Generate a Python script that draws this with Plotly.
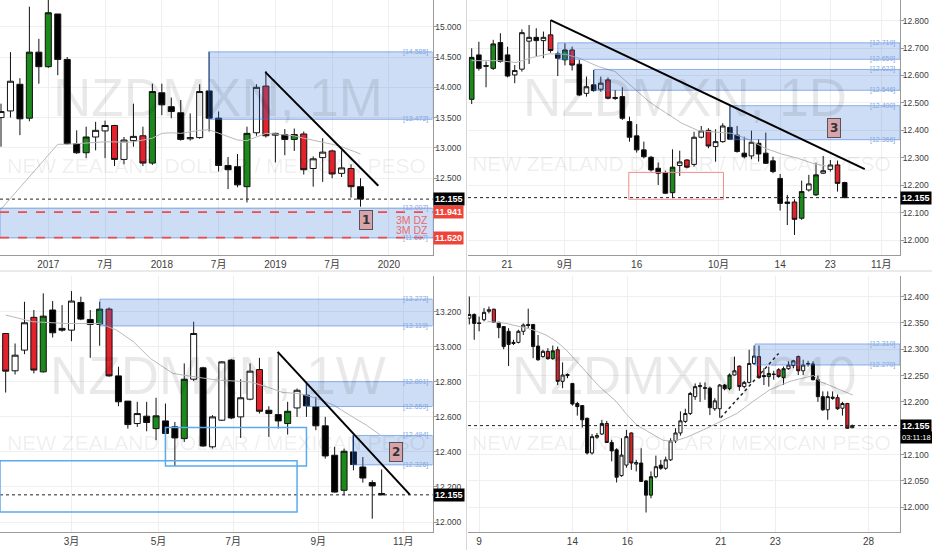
import plotly.graph_objects as go

W, H = 932, 550
LAST = 12.155

# ---------------- NZDMXN 1M (top-left) ----------------
m_open = [13.50, 13.61, 14.05, 13.49, 14.58, 14.34, 15.21, 14.46, 13.07, 12.92, 13.18, 13.28, 13.37, 12.81, 13.12, 13.20, 12.75, 13.91, 13.68, 13.58, 13.15, 13.17, 13.94, 13.49, 12.71, 12.69, 12.36, 13.25, 14.02, 13.21, 13.22, 13.14, 13.23, 12.66, 12.84, 12.95, 12.58, 12.66, 12.36]
m_high = [13.73, 14.58, 14.15, 15.33, 14.80, 15.55, 15.21, 14.50, 13.29, 13.35, 13.43, 13.45, 13.38, 13.18, 13.73, 13.35, 14.06, 14.06, 13.83, 13.79, 13.57, 14.05, 14.585, 13.60, 12.85, 12.90, 13.35, 14.05, 14.27, 13.25, 13.31, 13.32, 13.27, 12.86, 13.16, 12.97, 12.96, 12.73, 12.50]
m_low = [13.02, 13.50, 13.21, 13.44, 14.06, 14.32, 14.20, 13.05, 12.90, 12.83, 12.96, 12.83, 12.70, 12.73, 13.02, 12.70, 12.72, 13.54, 13.49, 13.12, 13.12, 13.15, 13.27, 12.61, 12.32, 12.35, 12.10, 13.20, 13.17, 12.76, 12.88, 12.95, 12.56, 12.36, 12.44, 12.50, 12.52, 12.18, 12.03]
m_close = [13.60, 14.10, 13.48, 14.58, 14.34, 15.23, 14.46, 13.07, 12.92, 13.18, 13.29, 13.37, 12.81, 13.13, 13.19, 12.75, 13.93, 13.71, 13.60, 13.14, 13.17, 13.93, 13.49, 12.71, 12.64, 12.39, 13.24, 14.00, 13.20, 13.24, 13.14, 13.22, 12.64, 12.82, 12.93, 12.57, 12.67, 12.36, 12.155]
m_kind = ["w", "w", "b", "g", "b", "g", "b", "b", "b", "g", "w", "w", "r", "w", "w", "r", "g", "b", "b", "b", "w", "w", "b", "b", "b", "b", "g", "w", "r", "w", "b", "g", "r", "w", "w", "r", "w", "r", "b"]
m_ma = [11.99, 12.17, 12.35, 12.52, 12.70, 12.88, 13.06, 13.06, 13.07, 13.09, 13.10, 13.10, 13.10, 13.09, 13.10, 13.13, 13.16, 13.24, 13.25, 13.24, 13.27, 13.29, 13.30, 13.24, 13.18, 13.13, 13.12, 13.18, 13.24, 13.23, 13.21, 13.20, 13.16, 13.13, 13.10, 13.06, 13.02, 12.96, 12.90]
m_tick_pos = [5, 11, 17, 23, 29, 35, 41]
m_tick_text = ["2017", "7月", "2018", "7月", "2019", "7月", "2020"]
m_price_ticks = [11.5, 12.0, 12.5, 13.0, 13.5, 14.0, 14.5, 15.0]
m_price_hidden = [11.5, 12.0]
m_zone_from = [21.96, -5.0]
m_zone_top = [14.585, 12.007]
m_zone_bot = [13.472, 11.517]
m_trend_x = [27.94, 39.88]
m_trend_y = [14.25, 12.376]
m_dz_levels = [11.941, 11.520]
m_dz_text = ["3M DZ", "3M DZ"]

# ---------------- NZDMXN 1D (top-right) ----------------
d_open = [12.513, 12.675, 12.636, 12.626, 12.720, 12.675, 12.602, 12.623, 12.725, 12.739, 12.727, 12.748, 12.679, 12.657, 12.693, 12.641, 12.535, 12.566, 12.550, 12.584, 12.520, 12.523, 12.432, 12.380, 12.329, 12.302, 12.262, 12.246, 12.173, 12.272, 12.292, 12.276, 12.375, 12.400, 12.341, 12.359, 12.411, 12.383, 12.317, 12.307, 12.353, 12.317, 12.289, 12.225, 12.139, 12.139, 12.080, 12.183, 12.165, 12.244, 12.258, 12.274, 12.210]
d_high = [12.699, 12.723, 12.651, 12.730, 12.754, 12.705, 12.638, 12.768, 12.784, 12.772, 12.760, 12.802, 12.687, 12.717, 12.705, 12.657, 12.596, 12.620, 12.596, 12.593, 12.547, 12.557, 12.450, 12.423, 12.359, 12.307, 12.283, 12.253, 12.331, 12.326, 12.295, 12.395, 12.416, 12.408, 12.404, 12.426, 12.490, 12.416, 12.377, 12.399, 12.368, 12.392, 12.304, 12.241, 12.165, 12.149, 12.217, 12.238, 12.283, 12.307, 12.292, 12.290, 12.213]
d_low = [12.496, 12.618, 12.557, 12.620, 12.647, 12.593, 12.572, 12.614, 12.642, 12.671, 12.663, 12.683, 12.598, 12.637, 12.618, 12.525, 12.523, 12.541, 12.541, 12.513, 12.511, 12.438, 12.359, 12.319, 12.298, 12.250, 12.201, 12.168, 12.153, 12.234, 12.262, 12.268, 12.371, 12.335, 12.286, 12.355, 12.365, 12.319, 12.298, 12.295, 12.286, 12.278, 12.244, 12.108, 12.055, 12.019, 12.074, 12.177, 12.161, 12.241, 12.250, 12.177, 12.153]
d_close = [12.666, 12.626, 12.634, 12.715, 12.651, 12.598, 12.618, 12.756, 12.739, 12.727, 12.739, 12.691, 12.663, 12.693, 12.638, 12.529, 12.559, 12.545, 12.572, 12.517, 12.517, 12.444, 12.375, 12.329, 12.304, 12.256, 12.244, 12.171, 12.266, 12.285, 12.266, 12.375, 12.398, 12.343, 12.359, 12.416, 12.368, 12.323, 12.304, 12.357, 12.314, 12.280, 12.250, 12.134, 12.134, 12.076, 12.177, 12.205, 12.238, 12.253, 12.274, 12.207, 12.155]
d_kind = ["g", "b", "b", "g", "b", "b", "w", "w", "w", "b", "w", "r", "b", "g", "r", "b", "w", "b", "w", "r", "b", "b", "b", "b", "b", "b", "b", "b", "g", "w", "r", "w", "w", "r", "w", "w", "b", "b", "b", "w", "b", "b", "b", "b", "b", "r", "g", "w", "g", "w", "w", "r", "b"]
d_ma_x = [0, 3.8, 6.2, 8.5, 10.8, 13.1, 15.0, 17.7, 20.0, 22.4, 24.7, 27.0, 29.3, 31.6, 33.9, 36.3, 38.6, 40.9, 43.2, 45.5, 47.8, 49.4]
d_ma_y = [12.654, 12.654, 12.647, 12.666, 12.679, 12.677, 12.663, 12.632, 12.614, 12.560, 12.505, 12.465, 12.426, 12.399, 12.393, 12.389, 12.367, 12.335, 12.314, 12.298, 12.278, 12.270]
d_tick_pos = [4.93, 12.97, 23.0, 34.4, 43.0, 50.0, 57.1]
d_tick_text = ["21", "9月", "16", "10月", "14", "23", "11月"]
d_price_ticks = [12.0, 12.1, 12.2, 12.3, 12.4, 12.5, 12.6, 12.7, 12.8]
d_price_hidden = []
d_zone_from = [12.0, 17.05, 36.0]
d_zone_top = [12.719, 12.622, 12.490]
d_zone_bot = [12.659, 12.546, 12.366]
d_trend_x = [11.0, 54.8]
d_trend_y = [12.802, 12.259]
d_box_x = [21.9, 35.1]
d_box_y = [12.149, 12.247]

# ---------------- NZDMXN 1W (bottom-left) ----------------
w_open = [13.076, 12.863, 12.981, 13.168, 12.857, 13.210, 13.105, 13.095, 13.253, 13.156, 13.128, 13.215, 12.834, 12.690, 12.562, 12.604, 12.533, 12.577, 12.543, 12.476, 12.815, 12.880, 12.429, 12.581, 12.924, 12.600, 12.701, 12.870, 12.638, 12.613, 12.562, 12.651, 12.724, 12.657, 12.549, 12.381, 12.181, 12.400, 12.314, 12.225, 12.163]
w_high = [13.076, 13.019, 13.257, 13.210, 13.305, 13.261, 13.238, 13.318, 13.286, 13.210, 13.257, 13.225, 12.886, 12.690, 12.686, 12.686, 12.709, 12.676, 12.571, 12.905, 13.143, 12.886, 12.610, 12.918, 12.930, 12.815, 12.905, 12.937, 12.661, 12.971, 12.686, 12.762, 12.800, 12.714, 12.600, 12.429, 12.419, 12.495, 12.371, 12.238, 12.300]
w_low = [12.739, 12.842, 12.958, 12.848, 12.853, 13.053, 13.086, 13.032, 13.152, 12.937, 13.006, 12.829, 12.661, 12.533, 12.543, 12.518, 12.467, 12.400, 12.320, 12.457, 12.804, 12.429, 12.419, 12.577, 12.587, 12.480, 12.695, 12.619, 12.486, 12.533, 12.499, 12.600, 12.600, 12.524, 12.362, 12.168, 12.152, 12.295, 12.225, 12.019, 12.153]
w_close = [12.861, 12.952, 13.137, 12.867, 13.175, 13.080, 13.095, 13.261, 13.158, 13.128, 13.215, 12.834, 12.686, 12.556, 12.619, 12.568, 12.606, 12.505, 12.480, 12.815, 13.076, 12.434, 12.600, 12.914, 12.594, 12.709, 12.861, 12.632, 12.619, 12.577, 12.632, 12.752, 12.663, 12.549, 12.377, 12.171, 12.404, 12.328, 12.251, 12.206, 12.155]
w_kind = ["r", "w", "w", "r", "g", "b", "b", "w", "b", "b", "g", "r", "b", "b", "w", "b", "g", "b", "b", "g", "w", "b", "w", "w", "b", "w", "w", "r", "b", "b", "g", "w", "b", "b", "b", "b", "g", "b", "b", "b", "b"]
w_ma_x = [0, 2.9, 6.5, 10.0, 11.8, 13.6, 15.4, 17.8, 18.9, 22.5, 26.0, 27.8, 29.5, 31.3, 33.1, 34.9, 36.6, 38.4, 39.8]
w_ma_y = [13.181, 13.143, 13.133, 13.133, 13.095, 13.029, 12.933, 12.848, 12.838, 12.810, 12.800, 12.771, 12.739, 12.733, 12.705, 12.667, 12.610, 12.552, 12.499]
w_tick_pos = [7.0, 16.25, 24.2, 33.25, 42.3]
w_tick_text = ["3月", "5月", "7月", "9月", "11月"]
w_price_ticks = [12.0, 12.2, 12.4, 12.6, 12.8, 13.0, 13.2]
w_price_hidden = []
w_zone_from = [10.03, 31.95, 36.9]
w_zone_top = [13.272, 12.801, 12.494]
w_zone_bot = [13.119, 12.659, 12.326]
w_trend_x = [28.94, 43.0]
w_trend_y = [12.971, 12.156]
w_box_x0 = [17.0, -5.0]
w_box_x1 = [32.0, 31.0]
w_box_y0 = [12.320, 12.057]
w_box_y1 = [12.539, 12.349]

# ---------------- NZDMXN 240 (bottom-right) ----------------
h_open = [12.359, 12.366, 12.350, 12.356, 12.372, 12.376, 12.351, 12.343, 12.334, 12.313,
          12.313, 12.334, 12.347, 12.347, 12.306, 12.286, 12.296, 12.282, 12.299, 12.239,
          12.252, 12.235, 12.197, 12.193, 12.169, 12.103, 12.133, 12.139, 12.159, 12.123,
          12.109, 12.060, 12.080, 12.141, 12.082, 12.084, 12.050, 12.023, 12.058, 12.080,
          12.074, 12.090, 12.126, 12.141, 12.163, 12.178, 12.210, 12.229, 12.227, 12.226,
          12.187, 12.187, 12.232, 12.225, 12.251, 12.268, 12.229, 12.237, 12.273, 12.286,
          12.250, 12.248, 12.253, 12.261, 12.246, 12.263, 12.269, 12.286, 12.259, 12.273,
          12.272, 12.242, 12.210, 12.185, 12.209, 12.208, 12.188, 12.197, 12.151]
h_high = [12.400, 12.368, 12.362, 12.378, 12.381, 12.377, 12.352, 12.344, 12.340, 12.318,
          12.337, 12.349, 12.377, 12.348, 12.327, 12.299, 12.302, 12.307, 12.305, 12.275,
          12.254, 12.236, 12.200, 12.194, 12.170, 12.139, 12.141, 12.166, 12.164, 12.128,
          12.112, 12.131, 12.147, 12.142, 12.090, 12.112, 12.052, 12.068, 12.098, 12.090,
          12.096, 12.131, 12.150, 12.182, 12.187, 12.219, 12.235, 12.237, 12.237, 12.229,
          12.207, 12.234, 12.234, 12.254, 12.286, 12.269, 12.240, 12.299, 12.307, 12.307,
          12.264, 12.267, 12.259, 12.264, 12.267, 12.277, 12.280, 12.288, 12.280, 12.278,
          12.277, 12.250, 12.220, 12.220, 12.220, 12.214, 12.200, 12.198, 12.157]
h_low = [12.347, 12.318, 12.334, 12.353, 12.368, 12.350, 12.321, 12.300, 12.268, 12.308,
         12.311, 12.327, 12.340, 12.283, 12.278, 12.284, 12.280, 12.280, 12.232, 12.226,
         12.245, 12.193, 12.174, 12.151, 12.100, 12.100, 12.130, 12.137, 12.122, 12.087,
         12.047, 12.058, 12.075, 12.071, 12.068, 12.048, 11.990, 12.017, 12.055, 12.071,
         12.071, 12.088, 12.122, 12.136, 12.160, 12.175, 12.204, 12.200, 12.204, 12.175,
         12.183, 12.170, 12.222, 12.222, 12.250, 12.221, 12.226, 12.235, 12.270, 12.244,
         12.232, 12.229, 12.242, 12.246, 12.232, 12.261, 12.264, 12.251, 12.251, 12.267,
         12.241, 12.200, 12.183, 12.166, 12.204, 12.185, 12.174, 12.149, 12.150]
h_close = [12.366, 12.349, 12.349, 12.370, 12.375, 12.351, 12.341, 12.305, 12.309, 12.311,
           12.334, 12.346, 12.345, 12.305, 12.280, 12.296, 12.282, 12.297, 12.239, 12.251,
           12.250, 12.196, 12.191, 12.166, 12.103, 12.134, 12.136, 12.159, 12.123, 12.107,
           12.057, 12.099, 12.134, 12.084, 12.085, 12.049, 12.023, 12.058, 12.077, 12.074,
           12.090, 12.126, 12.141, 12.164, 12.178, 12.216, 12.229, 12.231, 12.226, 12.189,
           12.202, 12.232, 12.225, 12.251, 12.259, 12.229, 12.237, 12.273, 12.287, 12.246,
           12.248, 12.254, 12.252, 12.248, 12.263, 12.270, 12.278, 12.259, 12.270, 12.272,
           12.242, 12.210, 12.185, 12.210, 12.207, 12.187, 12.197, 12.150, 12.155]
h_kind = ["w", "b", "b", "w", "w", "r", "b", "b", "b", "b",
          "w", "w", "b", "b", "b", "w", "r", "g", "r", "w",
          "b", "b", "b", "b", "b", "w", "w", "w", "r", "b",
          "b", "w", "w", "r", "w", "b", "b", "g", "w", "b",
          "w", "w", "w", "w", "w", "w", "w", "w", "b", "b",
          "w", "w", "b", "g", "w", "r", "w", "w", "w", "r",
          "b", "g", "b", "r", "g", "w", "w", "r", "w", "b",
          "b", "b", "b", "w", "b", "r", "w", "r", "w"]
h_ma_x = [3.7, 7.5, 12.9, 15.6, 17.7, 19.7, 23.1, 26.5, 29.9, 31.9, 34.1, 37.5, 39.5, 41.6, 44.3, 47.7, 51.1, 54.5, 57.8, 61.2, 65.3, 70.1, 71.4, 74.8, 78.1]
h_ma_y = [12.353, 12.349, 12.337, 12.327, 12.315, 12.299, 12.264, 12.229, 12.201, 12.178, 12.156, 12.138, 12.127, 12.125, 12.133, 12.147, 12.163, 12.178, 12.201, 12.223, 12.239, 12.250, 12.239, 12.226, 12.213]
h_tick_pos = [2.0, 21.0, 32.2, 51.2, 62.3, 81.3]
h_tick_text = ["9", "14", "16", "21", "23", "28"]
h_price_ticks = [12.0, 12.05, 12.1, 12.15, 12.2, 12.25, 12.3, 12.35, 12.4]
h_price_hidden = [12.15]
h_zone_from = [58.2]
h_zone_top = [12.310]
h_zone_bot = [12.270]
h_dot_x = [51.2, 63.0]
h_dot_y = [12.170, 12.292]

# ---------------- styling / geometry ----------------
FONT = "Liberation Sans, Arial, Noto Sans CJK SC, sans-serif"
KIND_FILL = {"w": "#ffffff", "b": "#000000", "g": "#1b8a1b", "r": "#e3222b"}
ZONE_FILL = "rgba(60,120,220,0.25)"
ZONE_LINE = "rgba(60,120,220,0.55)"
ZONE_TXT = "#86a9e0"
GRID = "#efefef"
AXLINE = "#9a9a9a"

xl = [0, 432.5 / W]
xr = [468 / W, 900 / W]
yt = [1 - 255 / H, 1]
yb = [1 - 532 / H, 1 - 276 / H]

panels = [
    dict(s="", xd=xl, yd=yt, xrng=[-0.106, 45.61], yrng=[11.2327, 15.4406],
         o=m_open, h=m_high, l=m_low, c=m_close, k=m_kind,
         ma_x=list(range(len(m_ma))), ma_y=m_ma, tp=m_tick_pos, tt=m_tick_text,
         pt=m_price_ticks, ph=m_price_hidden, zf=m_zone_from, zt=m_zone_top, zb=m_zone_bot,
         wm="NZDMXN, 1M", wmx=218, wmy=97, wm2x=216, wm2y=165),
    dict(s="2", xd=xr, yd=yt, xrng=[-0.516, 59.71], yrng=[11.946, 12.875],
         o=d_open, h=d_high, l=d_low, c=d_close, k=d_kind,
         ma_x=d_ma_x, ma_y=d_ma_y, tp=d_tick_pos, tt=d_tick_text,
         pt=d_price_ticks, ph=d_price_hidden, zf=d_zone_from, zt=d_zone_top, zb=d_zone_bot,
         wm="NZDMXN, 1D", wmx=685, wmy=97, wm2x=681, wm2y=163),
    dict(s="3", xd=xl, yd=yb, xrng=[-0.603, 45.41], yrng=[11.943, 13.404],
         o=w_open, h=w_high, l=w_low, c=w_close, k=w_kind,
         ma_x=w_ma_x, ma_y=w_ma_y, tp=w_tick_pos, tt=w_tick_text,
         pt=w_price_ticks, ph=w_price_hidden, zf=w_zone_from, zt=w_zone_top, zb=w_zone_bot,
         wm="NZDMXN, 1W", wmx=218, wmy=375, wm2x=216, wm2y=442),
    dict(s="4", xd=xr, yd=yb, xrng=[-0.265, 87.72], yrng=[11.953, 12.439],
         o=h_open, h=h_high, l=h_low, c=h_close, k=h_kind,
         ma_x=h_ma_x, ma_y=h_ma_y, tp=h_tick_pos, tt=h_tick_text,
         pt=h_price_ticks, ph=h_price_hidden, zf=h_zone_from, zt=h_zone_top, zb=h_zone_bot,
         wm="NZDMXN, 240", wmx=684, wmy=375, wm2x=681, wm2y=442),
]

fig = go.Figure()
shapes = []
annots = []
layout_axes = {}

for p in panels:
    s = p["s"]
    xa, ya = "x" + s, "y" + s
    xs = list(range(len(p["o"])))
    # moving average
    fig.add_trace(go.Scatter(x=p["ma_x"], y=p["ma_y"], mode="lines",
                             line=dict(color="#b9b9b9", width=1),
                             xaxis=xa, yaxis=ya, hoverinfo="skip", showlegend=False))
    # candles by colour group
    for kk, fill in KIND_FILL.items():
        ids = [i for i, v in enumerate(p["k"]) if v == kk]
        if not ids:
            continue
        st = dict(fillcolor=fill, line=dict(color="#111111", width=1))
        fig.add_trace(go.Candlestick(
            x=[xs[i] for i in ids], open=[p["o"][i] for i in ids],
            high=[p["h"][i] for i in ids], low=[p["l"][i] for i in ids],
            close=[p["c"][i] for i in ids], increasing=st, decreasing=st,
            whiskerwidth=0, xaxis=xa, yaxis=ya, hoverinfo="skip", showlegend=False))

    # axes
    layout_axes["xaxis" + s] = dict(
        domain=p["xd"], range=p["xrng"], anchor=ya, tickvals=p["tp"], ticktext=p["tt"],
        showgrid=True, gridcolor=GRID, zeroline=False, showline=True, linecolor=AXLINE,
        ticks="", tickfont=dict(family=FONT, size=10, color="#3c3c3c"),
        rangeslider=dict(visible=False), fixedrange=True)
    layout_axes["yaxis" + s] = dict(
        domain=p["yd"], range=p["yrng"], anchor=xa, side="right",
        tickvals=p["pt"], ticktext=["" if v in p["ph"] else f"{v:.3f}" for v in p["pt"]],
        showgrid=True, gridcolor=GRID, zeroline=False, showline=True, linecolor=AXLINE,
        ticks="outside", ticklen=3, tickcolor=AXLINE, ticklabelstandoff=-3,
        tickfont=dict(family=FONT, size=8.5, color="#3c3c3c"), fixedrange=True)

    # supply / demand zones
    for x0, top, bot in zip(p["zf"], p["zt"], p["zb"]):
        shapes.append(dict(type="rect", xref=xa, yref=ya, x0=max(x0, p["xrng"][0]), x1=p["xrng"][1],
                           y0=bot, y1=top, fillcolor=ZONE_FILL,
                           line=dict(color=ZONE_LINE, width=1), layer="above"))
        for v in (top, bot):
            annots.append(dict(xref="paper", yref=ya, x=p["xd"][1], y=v, xanchor="right",
                               xshift=-3, yanchor="middle", showarrow=False, text=f"[{v:.3f}]",
                               font=dict(family=FONT, size=7, color=ZONE_TXT)))
    # last price dotted line + tag
    shapes.append(dict(type="line", xref=xa + " domain", yref=ya, x0=0, x1=1, y0=LAST, y1=LAST,
                       line=dict(color="#222222", width=1, dash="dot"), layer="above"))
    annots.append(dict(xref="paper", yref=ya, x=p["xd"][1], y=LAST, xanchor="left", yanchor="middle",
                       showarrow=False, text=f"<b>{LAST:.3f}</b>", bgcolor="#000000",
                       borderpad=1, font=dict(family=FONT, size=9, color="#ffffff")))
    # watermarks
    annots.append(dict(xref="paper", yref="paper", x=p["wmx"] / W, y=1 - p["wmy"] / H,
                       xanchor="center", yanchor="middle", showarrow=False, text=p["wm"],
                       font=dict(family=FONT, size=53, color="rgba(0,0,0,0.085)")))
    annots.append(dict(xref="paper", yref="paper", x=p["wm2x"] / W, y=1 - p["wm2y"] / H,
                       xanchor="center", yanchor="middle", showarrow=False,
                       text="NEW ZEALAND DOLLAR / MEXICAN PESO",
                       font=dict(family=FONT, size=21, color="rgba(0,0,0,0.075)")))

# ---- panel-specific drawings ----
# 1M: trendline, 3M demand-zone dashed levels, label "1"
shapes.append(dict(type="line", xref="x", yref="y", x0=m_trend_x[0], x1=m_trend_x[1],
                   y0=m_trend_y[0], y1=m_trend_y[1], line=dict(color="#000000", width=2), layer="above"))
for lv, tx, anc in zip(m_dz_levels, m_dz_text, ["top", "bottom"]):
    shapes.append(dict(type="line", xref="x domain", yref="y", x0=0, x1=1, y0=lv, y1=lv,
                       line=dict(color="#ee4b4b", width=1.6, dash="dash"), layer="above"))
    annots.append(dict(xref="paper", yref="y", x=xl[1], y=lv, xanchor="left", yanchor="middle",
                       showarrow=False, text=f"<b>{lv:.3f}</b>", bgcolor="#f0443a", borderpad=1,
                       font=dict(family=FONT, size=9, color="#ffffff")))
    annots.append(dict(xref="paper", yref="y", x=xl[1], y=lv, xanchor="right", xshift=-3,
                       yanchor=anc, showarrow=False, text=tx,
                       font=dict(family=FONT, size=10.5, color="#e86a6a")))

BOX = dict(showarrow=False, bgcolor="#d8a3ab", bordercolor="#555555", borderwidth=1, borderpad=2,
           font=dict(family="DejaVu Sans", size=12, color="#333333"))
annots.append(dict(xref="x", yref="y", x=38.53, y=11.81, text="<b>1</b>", **BOX))

# 1D: trendline, red box, label "3"
shapes.append(dict(type="line", xref="x2", yref="y2", x0=d_trend_x[0], x1=d_trend_x[1],
                   y0=d_trend_y[0], y1=d_trend_y[1], line=dict(color="#000000", width=2), layer="above"))
shapes.append(dict(type="rect", xref="x2", yref="y2", x0=d_box_x[0], x1=d_box_x[1],
                   y0=d_box_y[0], y1=d_box_y[1], line=dict(color="#f08a8a", width=1), layer="above"))
annots.append(dict(xref="x2", yref="y2", x=50.5, y=12.409, text="<b>3</b>", **BOX))

# 1W: trendline, outlined boxes, label "2"
shapes.append(dict(type="line", xref="x3", yref="y3", x0=w_trend_x[0], x1=w_trend_x[1],
                   y0=w_trend_y[0], y1=w_trend_y[1], line=dict(color="#000000", width=2), layer="above"))
for a0, a1, b0, b1 in zip(w_box_x0, w_box_x1, w_box_y0, w_box_y1):
    shapes.append(dict(type="rect", xref="x3", yref="y3", x0=max(a0, -0.603), x1=a1, y0=b0, y1=b1,
                       line=dict(color="#5aaaf0", width=1.5), layer="above"))
annots.append(dict(xref="x3", yref="y3", x=41.5, y=12.398, text="<b>2</b>", **BOX))

# 240: dotted trendline, countdown tag
shapes.append(dict(type="line", xref="x4", yref="y4", x0=h_dot_x[0], x1=h_dot_x[1],
                   y0=h_dot_y[0], y1=h_dot_y[1], line=dict(color="#222222", width=1.5, dash="dot"),
                   layer="above"))
annots.append(dict(xref="paper", yref="y4", x=xr[1], y=LAST, yshift=-12, xanchor="left",
                   yanchor="middle", showarrow=False, text="03:11:18", bgcolor="#000000",
                   borderpad=1, font=dict(family=FONT, size=7.5, color="#ffffff")))

# panel separators
shapes.append(dict(type="line", xref="paper", yref="paper", x0=0, x1=1, y0=1 - 271 / H, y1=1 - 271 / H,
                   line=dict(color="#d6d6d6", width=1)))
shapes.append(dict(type="line", xref="paper", yref="paper", x0=466.5 / W, x1=466.5 / W, y0=0, y1=1,
                   line=dict(color="#d6d6d6", width=1)))

fig.update_layout(
    width=W, height=H, autosize=False,
    margin=dict(l=0, r=0, t=0, b=0, pad=0),
    paper_bgcolor="#ffffff", plot_bgcolor="#ffffff",
    showlegend=False, hovermode=False,
    boxgap=0.36, boxgroupgap=0,
    shapes=shapes, annotations=annots,
    **layout_axes,
)

fig.write_html("out.html", config={"displayModeBar": False},
               post_script="document.body.style.margin='0';document.body.style.overflow='hidden';")
